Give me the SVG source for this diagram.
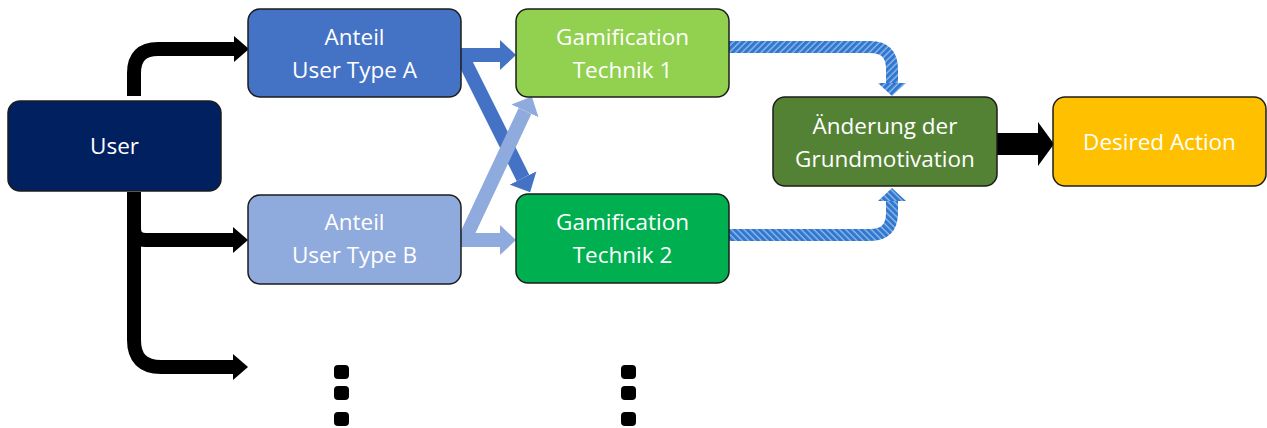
<svg xmlns="http://www.w3.org/2000/svg" width="1267" height="428" viewBox="0 0 1267 428">
  <style>
    .box { stroke: #1c1c1c; stroke-width: 1.5; }
    .lbl { font-family: "Open Sans", "Noto Sans", sans-serif; font-size: 22.5px; fill: #ffffff; text-anchor: middle; }
    .black { fill: none; stroke: #000000; stroke-width: 14; }
    .blue { fill: none; stroke: #4472C4; stroke-width: 14; }
    .light { fill: none; stroke: #8FAADC; stroke-width: 14; }
    .hatchA { fill: none; stroke: url(#stripesA); stroke-width: 12; }
    .hatchB { fill: none; stroke: url(#stripesB); stroke-width: 12; }
    .dot { fill: #000000; }
  </style>
  <defs>
    <pattern id="stripesA" width="4.5" height="4.5" patternUnits="userSpaceOnUse" patternTransform="rotate(45)">
      <rect width="4.5" height="4.5" fill="#94B8EA"/>
      <rect width="3.1" height="4.5" fill="#2F78CF"/>
    </pattern>
    <pattern id="stripesB" width="4.5" height="4.5" patternUnits="userSpaceOnUse" patternTransform="rotate(-45)">
      <rect width="4.5" height="4.5" fill="#94B8EA"/>
      <rect width="3.1" height="4.5" fill="#2F78CF"/>
    </pattern>
    <marker id="headBlack" viewBox="0 0 15 26" refX="0" refY="13" markerWidth="15" markerHeight="26" markerUnits="userSpaceOnUse" orient="auto">
      <polygon points="0,0 15,13 0,26" fill="#000000"/>
    </marker>
    <marker id="headBig" viewBox="0 0 16 44" refX="0" refY="22" markerWidth="16" markerHeight="44" markerUnits="userSpaceOnUse" orient="auto">
      <polygon points="0,0 16,22 0,44" fill="#000000"/>
    </marker>
    <marker id="headBlue" viewBox="0 0 16 30" refX="0" refY="15" markerWidth="16" markerHeight="30" markerUnits="userSpaceOnUse" orient="auto">
      <polygon points="0,0 16,15 0,30" fill="#4472C4"/>
    </marker>
    <marker id="headLight" viewBox="0 0 16 30" refX="0" refY="15" markerWidth="16" markerHeight="30" markerUnits="userSpaceOnUse" orient="auto">
      <polygon points="0,0 16,15 0,30" fill="#8FAADC"/>
    </marker>
    <marker id="headHatchA" viewBox="0 0 13 28" refX="0" refY="14" markerWidth="13" markerHeight="28" markerUnits="userSpaceOnUse" orient="auto">
      <polygon points="0,0 13,14 0,28" fill="url(#stripesB)"/>
    </marker>
    <marker id="headHatchB" viewBox="0 0 13 28" refX="0" refY="14" markerWidth="13" markerHeight="28" markerUnits="userSpaceOnUse" orient="auto">
      <polygon points="0,0 13,14 0,28" fill="url(#stripesA)"/>
    </marker>
  </defs>

  <rect width="1267" height="428" fill="#ffffff"/>

  <g id="connectors">
    <!-- User fan-out -->
    <path class="black" d="M134,96 V73 Q134,49 158,49 H234" marker-end="url(#headBlack)"/>
    <path class="black" d="M134,192 V340 Q134,367 161,367 H233" marker-end="url(#headBlack)"/>
    <path class="black" d="M134,228 Q134,240 146,240 H233" marker-end="url(#headBlack)"/>
    <!-- User types to techniques -->
    <path class="blue" d="M461,55 H500" marker-end="url(#headBlue)"/>
    <path class="blue" d="M462,56 L523,178" marker-end="url(#headBlue)"/>
    <path class="light" d="M463,243 L525,111" marker-end="url(#headLight)"/>
    <path class="light" d="M461,240 H500" marker-end="url(#headLight)"/>
    <!-- Techniques to motivation -->
    <path class="hatchA" d="M729,47 H870 Q892,47 892,69 V83" marker-end="url(#headHatchA)"/>
    <path class="hatchB" d="M729,235 H870 Q892,235 892,213 V201" marker-end="url(#headHatchB)"/>
    <!-- Motivation to action -->
    <path class="black" style="stroke-width:22" d="M997,144 H1038" marker-end="url(#headBig)"/>
  </g>

  <g id="user">
    <rect class="box" x="8" y="101" width="213" height="90" rx="12" fill="#002060"/>
    <text class="lbl" x="114.5" y="154">User</text>
  </g>
  <g id="anteil-a">
    <rect class="box" x="248" y="9" width="213" height="88" rx="12" fill="#4472C4"/>
    <text class="lbl" x="354.5" y="45">Anteil</text>
    <text class="lbl" x="354.5" y="78">User Type A</text>
  </g>
  <g id="anteil-b">
    <rect class="box" x="248" y="195" width="213" height="89" rx="12" fill="#8FAADC"/>
    <text class="lbl" x="354.5" y="230">Anteil</text>
    <text class="lbl" x="354.5" y="263">User Type B</text>
  </g>
  <g id="technik-1">
    <rect class="box" x="516" y="9" width="213" height="88" rx="12" fill="#92D050"/>
    <text class="lbl" x="622.5" y="45">Gamification</text>
    <text class="lbl" x="622.5" y="78">Technik 1</text>
  </g>
  <g id="technik-2">
    <rect class="box" x="516" y="194" width="213" height="89" rx="12" fill="#00B050"/>
    <text class="lbl" x="622.5" y="230">Gamification</text>
    <text class="lbl" x="622.5" y="263">Technik 2</text>
  </g>
  <g id="aenderung">
    <rect class="box" x="773" y="97" width="224" height="89" rx="12" fill="#548235"/>
    <text class="lbl" x="885" y="134">Änderung der</text>
    <text class="lbl" x="885" y="167">Grundmotivation</text>
  </g>
  <g id="desired-action">
    <rect class="box" x="1053" y="97" width="213" height="89" rx="12" fill="#FFC000"/>
    <text class="lbl" x="1159.5" y="150">Desired Action</text>
  </g>

  <g id="more-types">
    <rect class="dot" x="334" y="365" width="15" height="14" rx="4"/>
    <rect class="dot" x="334" y="386" width="15" height="14" rx="4"/>
    <rect class="dot" x="334" y="412" width="15" height="14" rx="4"/>
  </g>
  <g id="more-techniques">
    <rect class="dot" x="621" y="365" width="15" height="14" rx="4"/>
    <rect class="dot" x="621" y="386" width="15" height="14" rx="4"/>
    <rect class="dot" x="621" y="412" width="15" height="14" rx="4"/>
  </g>
</svg>
